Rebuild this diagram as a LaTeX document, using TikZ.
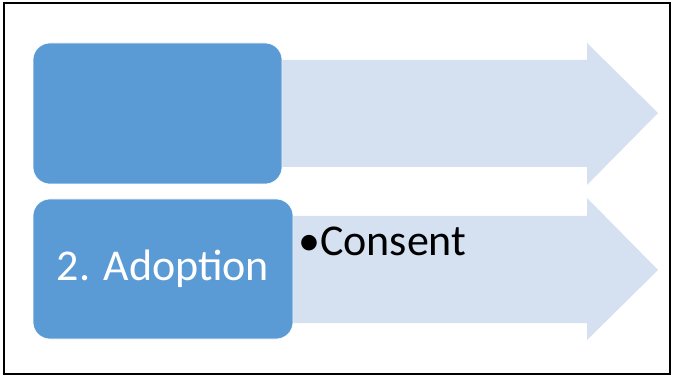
\documentclass[tikz,border=0pt]{standalone}
\usepackage{fontspec}
\setmainfont{Carlito}
\definecolor{stepblue}{HTML}{5B9BD5}
\definecolor{arrowblue}{HTML}{D5E0F0}
\begin{document}
\begin{tikzpicture}[x=1pt,y=-1pt,
  frame/.style={draw=black,line width=2pt},
  flowarrow/.style={fill=arrowblue,draw=none},
  stepbox/.style={rectangle,rounded corners=17pt,fill=stepblue,draw=white,line width=0.6pt,
    inner sep=0pt,text=white,font=\fontsize{44}{52}\selectfont},
  bullettext/.style={anchor=base west,inner sep=0pt,text=black,font=\fontsize{44}{52}\selectfont}]
  \useasboundingbox (0,0) rectangle (673,377);
  \fill[white] (0,0) rectangle (673,377);
  % outer frame
  \draw[frame] (4,3) rectangle (670,374);
  % block arrows behind the step boxes
  \path[flowarrow] (260,60) -- (587,60) -- (587,43) -- (658,113) -- (587,185) -- (587,167) -- (260,167) -- cycle;
  \path[flowarrow] (260,216) -- (587,216) -- (587,198) -- (658,270) -- (587,340) -- (587,323) -- (260,323) -- cycle;
  % step boxes
  \node[stepbox,minimum width=249pt,minimum height=141pt] (step1) at (157.5,113.5) {};
  \node[stepbox,minimum width=260pt,minimum height=140pt] (step2) at (163,269) {2. Adoption};
  % arrow text
  \node[bullettext] (consent) at (298,255) {•Consent};
\end{tikzpicture}
\end{document}
